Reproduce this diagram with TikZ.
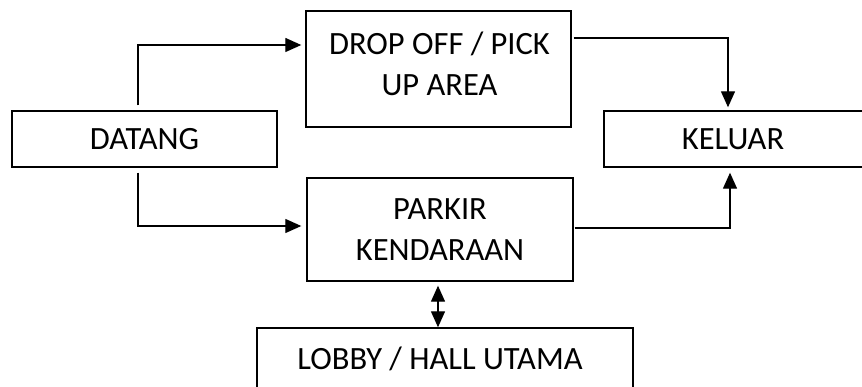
\documentclass[tikz,border=0pt]{standalone}
\usepackage{fontspec}
\setmainfont{Carlito}
\usetikzlibrary{arrows.meta}
\begin{document}
\begin{tikzpicture}[x=1pt,y=-1pt,
  box/.style={draw,line width=1.4pt,rectangle,inner sep=0pt},
  txt/.style={inner sep=0pt,align=center,font=\fontsize{32.5}{41}\selectfont},
  arr/.style={line width=1.3pt,-{Triangle[length=16pt,width=14pt]}},
  darr/.style={line width=1.3pt,{Triangle[length=16pt,width=14pt]}-{Triangle[length=16pt,width=14pt]}}]
\useasboundingbox (0,0) rectangle (862,387);
\clip (0,0) rectangle (862,387);
\node[box,minimum width=265pt,minimum height=56pt] (datang) at (144.5,139) {};
\node[txt] (datangt) at (144.5,139) {DATANG};
\node[box,minimum width=265pt,minimum height=116pt] (drop) at (438.5,69) {};
\node[txt] (dropt) at (439.5,64) {DROP OFF / PICK\\UP AREA};
\node[box,minimum width=264pt,minimum height=56pt] (keluar) at (736,139) {};
\node[txt] (keluart) at (733,139) {KELUAR};
\node[box,minimum width=266pt,minimum height=103pt] (parkir) at (440,229.5) {};
\node[txt] (parkirt) at (440,230) {PARKIR\\KENDARAAN};
\node[box,minimum width=376pt,minimum height=62pt] (lobby) at (445,359) {};
\node[txt] (lobbyt) at (440,359) {LOBBY / HALL UTAMA};
\draw[arr] ([xshift=-6.5pt,yshift=5pt]datang.north) |- ([xshift=-4pt,yshift=24pt]drop.west);
\draw[arr] ([xshift=-6.5pt,yshift=-5pt]datang.south) |- ([xshift=-5pt,yshift=3.5pt]parkir.west);
\draw[arr] ([xshift=2pt,yshift=31pt]drop.east) -| ([xshift=-8pt,yshift=3pt]keluar.north);
\draw[arr] ([xshift=1pt,yshift=1.5pt]parkir.east) -| ([xshift=-6pt,yshift=-5pt]keluar.south);
\draw[darr] ([xshift=-2pt,yshift=-4pt]parkir.south) -- ([xshift=-2pt]parkir.south |- lobby.north);
\end{tikzpicture}
\end{document}
